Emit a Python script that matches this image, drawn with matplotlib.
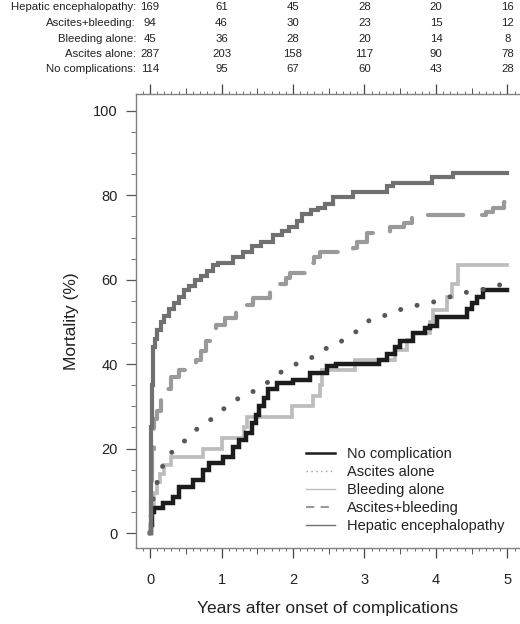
import matplotlib
matplotlib.use("Agg")
import matplotlib.pyplot as plt
from matplotlib.lines import Line2D
from matplotlib.ticker import MultipleLocator
import matplotlib.transforms as mtransforms

plt.rcParams['font.family'] = ['Liberation Sans', 'DejaVu Sans']

# ---------------- data ----------------
groups = ["No complication", "Ascites alone", "Bleeding alone",
          "Ascites+bleeding", "Hepatic encephalopathy"]

nc_t = [0, 0.01, 0.03, 0.05, 0.18, 0.32, 0.41, 0.6, 0.74, 0.83, 1.02, 1.16, 1.25,
        1.34, 1.42, 1.48, 1.53, 1.6, 1.65, 1.77, 2.0, 2.24, 2.47, 2.6, 3.2, 3.31,
        3.42, 3.5, 3.68, 3.85, 3.92, 4.01, 4.43, 4.5, 4.58, 4.66, 5.0]
nc_y = [0, 2, 5, 6, 7, 8.5, 11, 12.5, 15, 16.5, 18, 20.4, 22,
        23.7, 26, 28, 30, 32, 34, 35.5, 36.2, 37.8, 39.5, 40, 41, 42.5,
        44, 45.5, 47.4, 48.5, 49, 51.2, 53, 54.5, 56, 57.6, 57.6]

aa_t = [0, 0.02, 0.05, 0.1, 0.18, 0.26, 0.44, 0.6, 0.81, 1.0, 1.19, 1.42, 1.63,
        1.82, 2.04, 2.28, 2.48, 2.71, 2.9, 3.09, 3.37, 3.59, 3.89, 4.1, 4.42,
        4.75, 4.97]
aa_y = [0, 5, 9, 12, 16, 18.5, 21, 24, 26.3, 29, 31.5, 33.3, 35.5,
        38, 40, 41.7, 43.9, 45.7, 47.9, 50.7, 51.9, 53.6, 54.3, 55.5, 57,
        58, 59.2]

ba_t = [0, 0.02, 0.05, 0.1, 0.14, 0.2, 0.3, 0.74, 1.0, 1.31, 1.35, 1.98, 2.28,
        2.38, 2.41, 2.87, 3.42, 3.59, 3.68, 3.92, 3.96, 4.15, 4.22, 4.31, 5.0]
ba_y = [0, 5, 9.5, 12, 14, 16, 18, 20, 22.5, 25, 27.5, 30, 32.5,
        35, 38.5, 41, 43.4, 45.7, 47.3, 50, 52.8, 56, 59, 63.5, 63.5]

ab_t = [0, 0.01, 0.03, 0.05, 0.1, 0.15, 0.2, 0.3, 0.4, 0.6, 0.65, 0.72, 0.78,
        0.85, 0.92, 1.05, 1.2, 1.3, 1.44, 1.68, 1.8, 1.9, 1.96, 2.19, 2.3, 2.38,
        2.84, 2.9, 3.03, 3.36, 3.55, 3.66, 4.7, 4.8, 4.95, 5.0]
ab_y = [0, 8, 20, 27, 29, 32, 34, 37, 38.5, 39, 41, 43, 45.5,
        47.5, 49.3, 51, 52.8, 54, 55.7, 57.6, 59, 60.5, 61.6, 64, 65.5, 66.6,
        67.5, 69, 71, 72.5, 73.5, 75.4, 76, 77, 78.5, 80]

he_t = [0, 0.01, 0.02, 0.03, 0.04, 0.07, 0.1, 0.15, 0.2, 0.27, 0.33, 0.4, 0.47,
        0.55, 0.63, 0.72, 0.8, 0.88, 0.95, 1.16, 1.3, 1.42, 1.55, 1.72, 1.85,
        1.95, 2.05, 2.12, 2.25, 2.35, 2.45, 2.56, 2.84, 3.31, 3.4, 3.94, 4.24, 5.0]
he_y = [0, 10, 25, 35, 44, 46, 48, 50, 51.5, 53, 54.5, 56, 57.5,
        58.5, 60, 61, 62, 63.5, 64, 65.5, 66.5, 68, 69, 70.5, 71.5,
        72.5, 74, 75.5, 76.5, 77, 78, 79.5, 80.8, 82.2, 83, 84.4, 85.3, 85.3]

risk_labels = ["Hepatic encephalopathy:", "Ascites+bleeding:", "Bleeding alone:",
               "Ascites alone:", "No complications:"]
risk_times = [0, 1, 2, 3, 4, 5]
risk_he = [169, 61, 45, 28, 20, 16]
risk_ab = [94, 46, 30, 23, 15, 12]
risk_ba = [45, 36, 28, 20, 14, 8]
risk_aa = [287, 203, 158, 117, 90, 78]
risk_nc = [114, 95, 67, 60, 43, 28]

x_ticks = [0, 1, 2, 3, 4, 5]
y_ticks = [0, 20, 40, 60, 80, 100]

# ---------------- figure ----------------
fig = plt.figure(figsize=(5.2, 6.24), dpi=100)
ax = fig.add_axes([136/520, 1-548/624, 1-136/520, (548-94)/624])

c_nc, c_aa, c_ba, c_ab, c_he = "#1c1c1c", "#585858", "#bdbdbd", "#9a9a9a", "#707070"

ax.plot(ba_t, ba_y, drawstyle='steps-post', color=c_ba, lw=2.7,
        solid_joinstyle='miter', zorder=2)
ax.plot(nc_t, nc_y, drawstyle='steps-post', color=c_nc, lw=3.2,
        solid_joinstyle='miter', zorder=3)
ax.plot(aa_t, aa_y, color=c_aa, lw=3.6, linestyle=(0, (0.01, 3.4)),
        dash_capstyle='round', zorder=4)
ax.plot(ab_t, ab_y, drawstyle='steps-post', color=c_ab, lw=3.0,
        linestyle=(0, (8.5, 4.5)), dash_capstyle='round', zorder=4)
ax.plot(he_t, he_y, drawstyle='steps-post', color=c_he, lw=3.0,
        solid_joinstyle='miter', zorder=5)

ax.set_xlim(-0.196, 5.175)
ax.set_ylim(-3.55, 104.0)

for s in ['left', 'top', 'bottom']:
    ax.spines[s].set_color('#808080')
    ax.spines[s].set_linewidth(1.0)
ax.spines['right'].set_visible(False)

ax.set_xticks(x_ticks)
ax.set_yticks(y_ticks)
ax.xaxis.set_minor_locator(MultipleLocator(0.1))
ax.yaxis.set_minor_locator(MultipleLocator(5))
ax.tick_params(axis='x', which='major', direction='out', length=7, width=0.9,
               color='#444444', top=True, labeltop=False, pad=11, labelsize=10.5,
               labelcolor='#222222')
ax.tick_params(axis='x', which='minor', direction='out', length=2.2, width=0.6,
               color='#555555', top=True)
ax.tick_params(axis='y', which='major', direction='out', length=7, width=0.9,
               color='#555555', pad=6, labelsize=10.5, labelcolor='#222222')
ax.tick_params(axis='y', which='minor', direction='out', length=3.5, width=0.7,
               color='#777777')

# half-year ticks
for loc in ['top', 'bottom']:
    sec = ax.secondary_xaxis(loc)
    sec.set_xticks([0.5, 1.5, 2.5, 3.5, 4.5])
    sec.tick_params(direction='out', length=4, width=0.7, color='#555555',
                    labelbottom=False, labeltop=False)
    sec.spines[loc].set_visible(False)

ax.set_xlabel("Years after onset of complications", fontsize=12.5,
              color='#222222', labelpad=10)
ax.set_ylabel("Mortality (%)", fontsize=12.5, color='#222222', labelpad=10)

handles = [
    Line2D([], [], color=c_nc, lw=1.8),
    Line2D([], [], color='#9a9a9a', lw=1.0, linestyle=(0, (1, 2.5))),
    Line2D([], [], color=c_ba, lw=1.0),
    Line2D([], [], color=c_ab, lw=1.5, linestyle=(0, (4, 3))),
    Line2D([], [], color=c_he, lw=1.0),
]
leg = ax.legend(handles, groups, loc='upper left', bbox_to_anchor=(0.443, 0.222),
                frameon=False, fontsize=10.5, handlelength=2.0, handletextpad=0.8,
                labelspacing=0.27, borderpad=0, borderaxespad=0)
for t in leg.get_texts():
    t.set_color('#222222')

# number-at-risk table
trans = mtransforms.blended_transform_factory(ax.transData, fig.transFigure)
rows = [risk_he, risk_ab, risk_ba, risk_aa, risk_nc]
row_py = [7, 23, 38.5, 54, 69]
for lab, vals, py in zip(risk_labels, rows, row_py):
    yf = 1 - py/624
    fig.text(136/520, yf, lab, ha='right', va='center', fontsize=8.2, color='#222222')
    for t, v in zip(risk_times, vals):
        ax.text(t, yf, str(v), transform=trans, ha='center', va='center',
                fontsize=8.2, color='#222222', clip_on=False)

fig.savefig("out.png", dpi=100)
